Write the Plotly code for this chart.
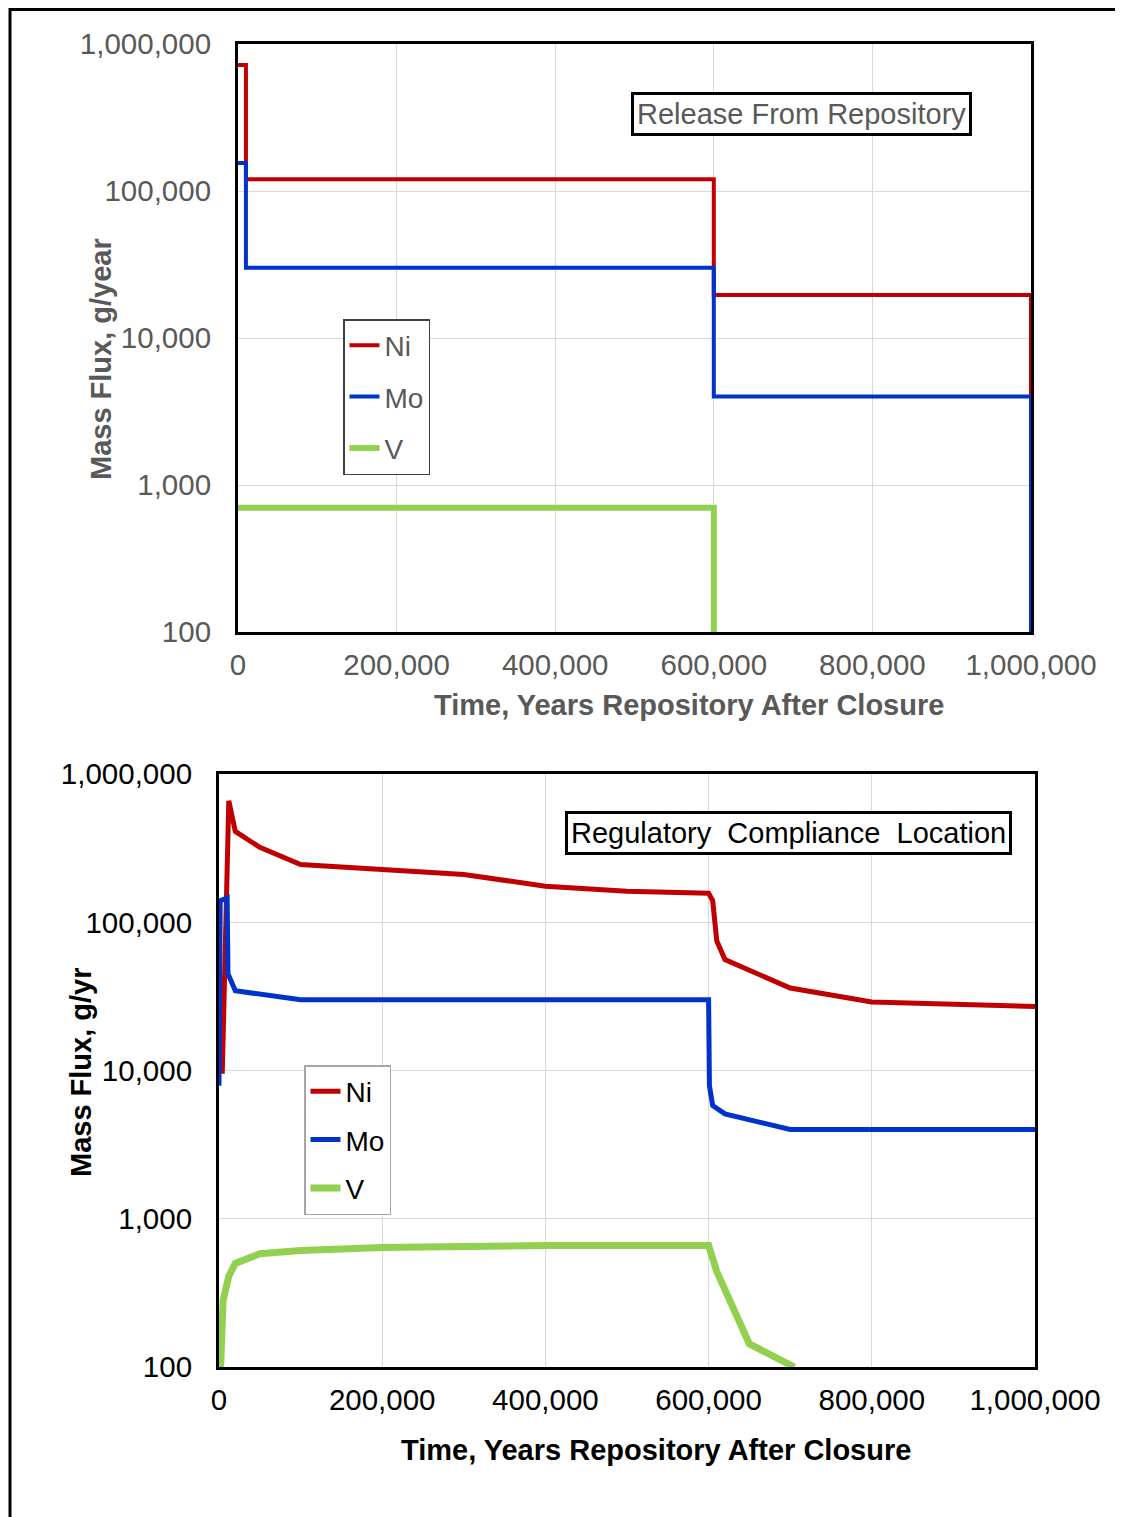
import plotly.graph_objects as go

# the page places the figure with a small body margin; compensate so that
# reference pixel coordinates land where they should
OFF = 7
W, H = 1123 - OFF, 1517 - OFF

# ---------------- data ----------------
# Top panel: Release From Repository (step series)
top_ni_t = [0, 10000, 600000, 1000000]
top_ni = [720000, 120000, 19600, 4000]
top_mo_t = [0, 10000, 600000, 1000000]
top_mo = [155000, 30000, 4000, 100]
top_v_t = [0, 600000]
top_v = [700, 100]

# Bottom panel: Regulatory Compliance Location
bot_ni_t = [4000, 12000, 20000, 50000, 100000, 300000, 400000, 500000, 600000,
            605000, 610000, 620000, 700000, 800000, 1000000]
bot_ni = [9500, 660000, 410000, 320000, 245000, 210000, 175000, 162000, 157000,
          140000, 75000, 56000, 36000, 29000, 27000]
bot_mo_t = [0, 1500, 10000, 11000, 20000, 100000, 600000, 601000, 605000, 620000,
            700000, 1000000]
bot_mo = [7900, 140000, 146000, 45000, 34500, 30000, 30000, 7900, 5800, 5100,
          4000, 4000]
bot_v_t = [2000, 5000, 12000, 20000, 50000, 100000, 200000, 400000, 600000,
           610000, 650000, 705000]
bot_v = [100, 280, 410, 500, 580, 610, 640, 660, 660, 440, 143, 100]

x_ticks = [0, 200000, 400000, 600000, 800000, 1000000]
y_ticks = [100, 1000, 10000, 100000, 1000000]

RED, BLUE, GREEN = "#C00000", "#0033CC", "#92D050"
GRAY_TXT = "#595959"
FONT = "Arial, Liberation Sans, sans-serif"
TICK_SIZE = 29.5


def px(xp):
    return (xp - OFF) / W


def py(yp):
    return 1 - (yp - OFF) / H


fig = go.Figure()

# top traces
fig.add_trace(go.Scatter(x=top_ni_t, y=top_ni, name="Ni", mode="lines", line=dict(color=RED, width=4, shape="hv"),
                         xaxis="x", yaxis="y", legend="legend", legendgroup="a"))
fig.add_trace(go.Scatter(x=top_mo_t, y=top_mo, name="Mo", mode="lines", line=dict(color=BLUE, width=4, shape="hv"),
                         xaxis="x", yaxis="y", legend="legend", legendgroup="b"))
fig.add_trace(go.Scatter(x=top_v_t, y=top_v, name="V", mode="lines", line=dict(color=GREEN, width=6, shape="hv"),
                         xaxis="x", yaxis="y", legend="legend", legendgroup="c"))

# bottom traces
fig.add_trace(go.Scatter(x=bot_ni_t, y=bot_ni, name="Ni", mode="lines", line=dict(color=RED, width=5),
                         xaxis="x2", yaxis="y2", legend="legend2", legendgroup="d"))
fig.add_trace(go.Scatter(x=bot_mo_t, y=bot_mo, name="Mo", mode="lines", line=dict(color=BLUE, width=5),
                         xaxis="x2", yaxis="y2", legend="legend2", legendgroup="e"))
fig.add_trace(go.Scatter(x=bot_v_t, y=bot_v, name="V", mode="lines", line=dict(color=GREEN, width=7),
                         xaxis="x2", yaxis="y2", legend="legend2", legendgroup="f"))


def xaxis_cfg(domain, anchor, color):
    return dict(domain=domain, anchor=anchor, range=[0, 1000000], tickvals=x_ticks, tickformat=",d",
                showgrid=True, gridcolor="#D9D9D9", gridwidth=1, zeroline=False,
                showline=True, linecolor="#000000", linewidth=3, mirror=True, layer="below traces",
                ticks="", ticklabelstandoff=5, automargin=False,
                tickfont=dict(family=FONT, size=TICK_SIZE, color=color), fixedrange=True)


def yaxis_cfg(domain, anchor, color):
    return dict(domain=domain, anchor=anchor, type="log", range=[2, 6], tickvals=y_ticks, tickformat=",d",
                showgrid=True, gridcolor="#D9D9D9", gridwidth=1, zeroline=False,
                showline=True, linecolor="#000000", linewidth=3, mirror=True, layer="below traces",
                ticks="", ticklabelstandoff=18, automargin=False,
                tickfont=dict(family=FONT, size=TICK_SIZE, color=color), fixedrange=True)


fig.update_layout(
    width=W, height=H, autosize=False,
    margin=dict(l=0, r=0, t=0, b=0, pad=0, autoexpand=False),
    paper_bgcolor="white", plot_bgcolor="white",
    font=dict(family=FONT),
    xaxis=xaxis_cfg([px(237), px(1030)], "y", GRAY_TXT),
    yaxis=yaxis_cfg([py(631), py(43)], "x", GRAY_TXT),
    xaxis2=xaxis_cfg([px(218), px(1034)], "y2", "#000000"),
    yaxis2=yaxis_cfg([py(1366), py(773)], "x2", "#000000"),
    legend=dict(x=px(342), y=py(318), xanchor="left", yanchor="top",
                bgcolor="white", bordercolor="#404040", borderwidth=1.5,
                font=dict(family=FONT, size=28, color=GRAY_TXT), tracegroupgap=12,
                itemwidth=30),
    legend2=dict(x=px(303), y=py(1064), xanchor="left", yanchor="top",
                 bgcolor="white", bordercolor="#A6A6A6", borderwidth=1.5,
                 font=dict(family=FONT, size=28, color="#000000"), tracegroupgap=9,
                 itemwidth=30),
    showlegend=True,
)

annotations = [
    # panel labels
    dict(text="Release From Repository", x=px(800), y=py(113), xref="paper", yref="paper",
         xanchor="center", yanchor="middle", showarrow=False,
         font=dict(family=FONT, size=29, color=GRAY_TXT),
         bgcolor="white", bordercolor="#000000", borderwidth=3, borderpad=3),
    dict(text="Regulatory  Compliance  Location", x=px(787), y=py(832), xref="paper", yref="paper",
         xanchor="center", yanchor="middle", showarrow=False,
         font=dict(family=FONT, size=29, color="#000000"),
         bgcolor="white", bordercolor="#000000", borderwidth=3, borderpad=3),
    # axis titles
    dict(text="<b>Time, Years Repository After Closure</b>", x=px(688), y=py(704), xref="paper", yref="paper",
         xanchor="center", yanchor="middle", showarrow=False,
         font=dict(family=FONT, size=29, color=GRAY_TXT)),
    dict(text="<b>Mass Flux, g/year</b>", x=px(100), y=py(358), xref="paper", yref="paper",
         xanchor="center", yanchor="middle", showarrow=False, textangle=-90,
         font=dict(family=FONT, size=29, color=GRAY_TXT)),
    dict(text="<b>Time, Years Repository After Closure</b>", x=px(655), y=py(1449), xref="paper", yref="paper",
         xanchor="center", yanchor="middle", showarrow=False,
         font=dict(family=FONT, size=29, color="#000000")),
    dict(text="<b>Mass Flux, g/yr</b>", x=px(80), y=py(1071), xref="paper", yref="paper",
         xanchor="center", yanchor="middle", showarrow=False, textangle=-90,
         font=dict(family=FONT, size=29, color="#000000")),
]
fig.update_layout(annotations=annotations)

# outer frame (left and top edges)
fig.add_shape(type="path", xref="paper", yref="paper",
              path=f"M {px(9)},{py(1517)} L {px(9)},{py(8.5)} L {px(1123)},{py(8.5)}",
              line=dict(color="#000000", width=3))

fig.write_html("out.html")
